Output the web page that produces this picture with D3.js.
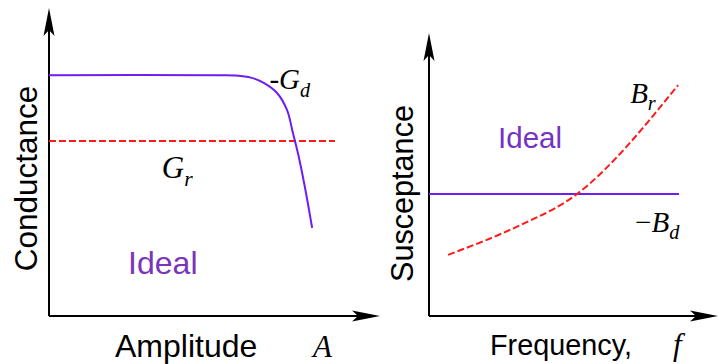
<!DOCTYPE html>
<html>
<head>
<meta charset="utf-8">
<script src="https://cdn.jsdelivr.net/npm/d3@7"></script>
<style>
  body { margin: 0; background: #fff; }
  svg { display: block; }
</style>
</head>
<body>
<svg width="719" height="364"></svg>
<script>
'use strict'

// left panel: conductance vs amplitude
const ampX = [0, 5.2, 5.62, 6.1, 6.5, 6.89, 7.19, 7.37, 7.52, 7.73, 7.95]
const gdY = [7.82, 7.82, 7.81, 7.74, 7.56, 7.24, 6.69, 5.94, 5.29, 4.19, 2.86]
const grX = [0, 8.64]
const grY = [5.68, 5.68]

// right panel: susceptance vs frequency
const freqX = [0.66, 2.21, 3.6, 5.12, 6.85, 8.62]
const brY = [2.16, 2.78, 3.42, 4.31, 6.0, 8.16]
const bdX = [0, 8.65]
const bdY = [4.31, 4.31]

const purple = '#6f1ef2'
const red = '#ff1a1a'
const sans = '"Liberation Sans", Arial, sans-serif'
const serif = '"Liberation Serif", "Times New Roman", serif'

const svg = d3.select('svg')

function arrow (g, x, y, dir) {
  // dir: 'up' or 'right'
  const len = 28
  const w = 5.5
  const notch = 22
  let p
  if (dir === 'up') {
    p = [[x, y], [x - w, y + len], [x, y + notch], [x + w, y + len]]
  } else {
    p = [[x, y], [x - len, y - w], [x - notch, y], [x - len, y + w]]
  }
  g.append('path')
    .attr('d', d3.line()(p) + 'Z')
    .attr('fill', '#000')
}

function axes (g, x, y) {
  const [x0, x1] = x.range()
  const [y0, y1] = y.range()
  g.append('line')
    .attr('x1', x0).attr('x2', x1 - 20)
    .attr('y1', y0).attr('y2', y0)
    .attr('stroke', '#000').attr('stroke-width', 2)
  g.append('line')
    .attr('x1', x0).attr('x2', x0)
    .attr('y1', y0).attr('y2', y1 + 20)
    .attr('stroke', '#000').attr('stroke-width', 2)
  arrow(g, x1, y0, 'right')
  arrow(g, x0, y1, 'up')
}

function mathLabel (g, x, y, main, sub, size, prefix) {
  const t = g.append('text')
    .attr('x', x).attr('y', y)
    .attr('font-family', serif)
    .attr('font-style', 'italic')
    .attr('font-size', size)
    .attr('fill', '#000')
  if (prefix) {
    t.append('tspan').attr('font-style', 'normal').text(prefix)
  }
  t.append('tspan').text(main)
  if (sub) {
    t.append('tspan')
      .attr('font-size', size * 0.7)
      .attr('dy', size * 0.26)
      .text(sub)
  }
  return t
}

// ---------- left panel ----------
const xL = d3.scaleLinear().domain([0, 10]).range([49, 380])
const yL = d3.scaleLinear().domain([0, 10]).range([316, 8])
const gL = svg.append('g')

axes(gL, xL, yL)

gL.append('path')
  .datum(grX.map((d, i) => [d, grY[i]]))
  .attr('d', d3.line().x(d => xL(d[0])).y(d => yL(d[1])))
  .attr('fill', 'none')
  .attr('stroke', red)
  .attr('stroke-width', 2)
  .attr('stroke-dasharray', '7,3')

gL.append('path')
  .datum(ampX.map((d, i) => [d, gdY[i]]))
  .attr('d', d3.line().curve(d3.curveCatmullRom.alpha(0.5)).x(d => xL(d[0])).y(d => yL(d[1])))
  .attr('fill', 'none')
  .attr('stroke', purple)
  .attr('stroke-width', 2)

gL.append('text')
  .attr('transform', 'translate(37,178.5) rotate(-90)')
  .attr('text-anchor', 'middle')
  .attr('font-family', sans)
  .attr('font-size', 31.5)
  .text('Conductance')

gL.append('text')
  .attr('x', 115).attr('y', 357)
  .attr('font-family', sans)
  .attr('font-size', 32)
  .text('Amplitude')

mathLabel(gL, 313, 357, 'A', null, 31)

gL.append('text')
  .attr('x', xL(2.39)).attr('y', yL(1.36))
  .attr('font-family', sans)
  .attr('font-size', 32)
  .attr('fill', '#7a35b8')
  .text('Ideal')

mathLabel(gL, xL(3.41), yL(4.48), 'G', 'r', 31)
mathLabel(gL, xL(6.66), yL(7.37), 'G', 'd', 29, '-')

// ---------- right panel ----------
const xR = d3.scaleLinear().domain([0, 10]).range([429, 718])
const yR = d3.scaleLinear().domain([0, 10]).range([316, 33])
const gR = svg.append('g')

axes(gR, xR, yR)

gR.append('path')
  .datum(bdX.map((d, i) => [d, bdY[i]]))
  .attr('d', d3.line().x(d => xR(d[0])).y(d => yR(d[1])))
  .attr('fill', 'none')
  .attr('stroke', purple)
  .attr('stroke-width', 2)

gR.append('path')
  .datum(freqX.map((d, i) => [d, brY[i]]))
  .attr('d', d3.line().curve(d3.curveNatural).x(d => xR(d[0])).y(d => yR(d[1])))
  .attr('fill', 'none')
  .attr('stroke', red)
  .attr('stroke-width', 2)
  .attr('stroke-dasharray', '7,3')

gR.append('text')
  .attr('transform', 'translate(413,193.5) rotate(-90)')
  .attr('text-anchor', 'middle')
  .attr('font-family', sans)
  .attr('font-size', 30.6)
  .text('Susceptance')

gR.append('text')
  .attr('x', 490).attr('y', 355)
  .attr('font-family', sans)
  .attr('font-size', 28.8)
  .text('Frequency,')

mathLabel(gR, 673, 355, 'f', null, 31)

gR.append('text')
  .attr('x', xR(2.39)).attr('y', yR(5.94))
  .attr('font-family', sans)
  .attr('font-size', 29.5)
  .attr('fill', '#7433c4')
  .text('Ideal')

mathLabel(gR, xR(6.96), yR(7.53), 'B', 'r', 29)
mathLabel(gR, xR(7.13), yR(2.97), 'B', 'd', 29, '\u2212')
</script>
</body>
</html>
